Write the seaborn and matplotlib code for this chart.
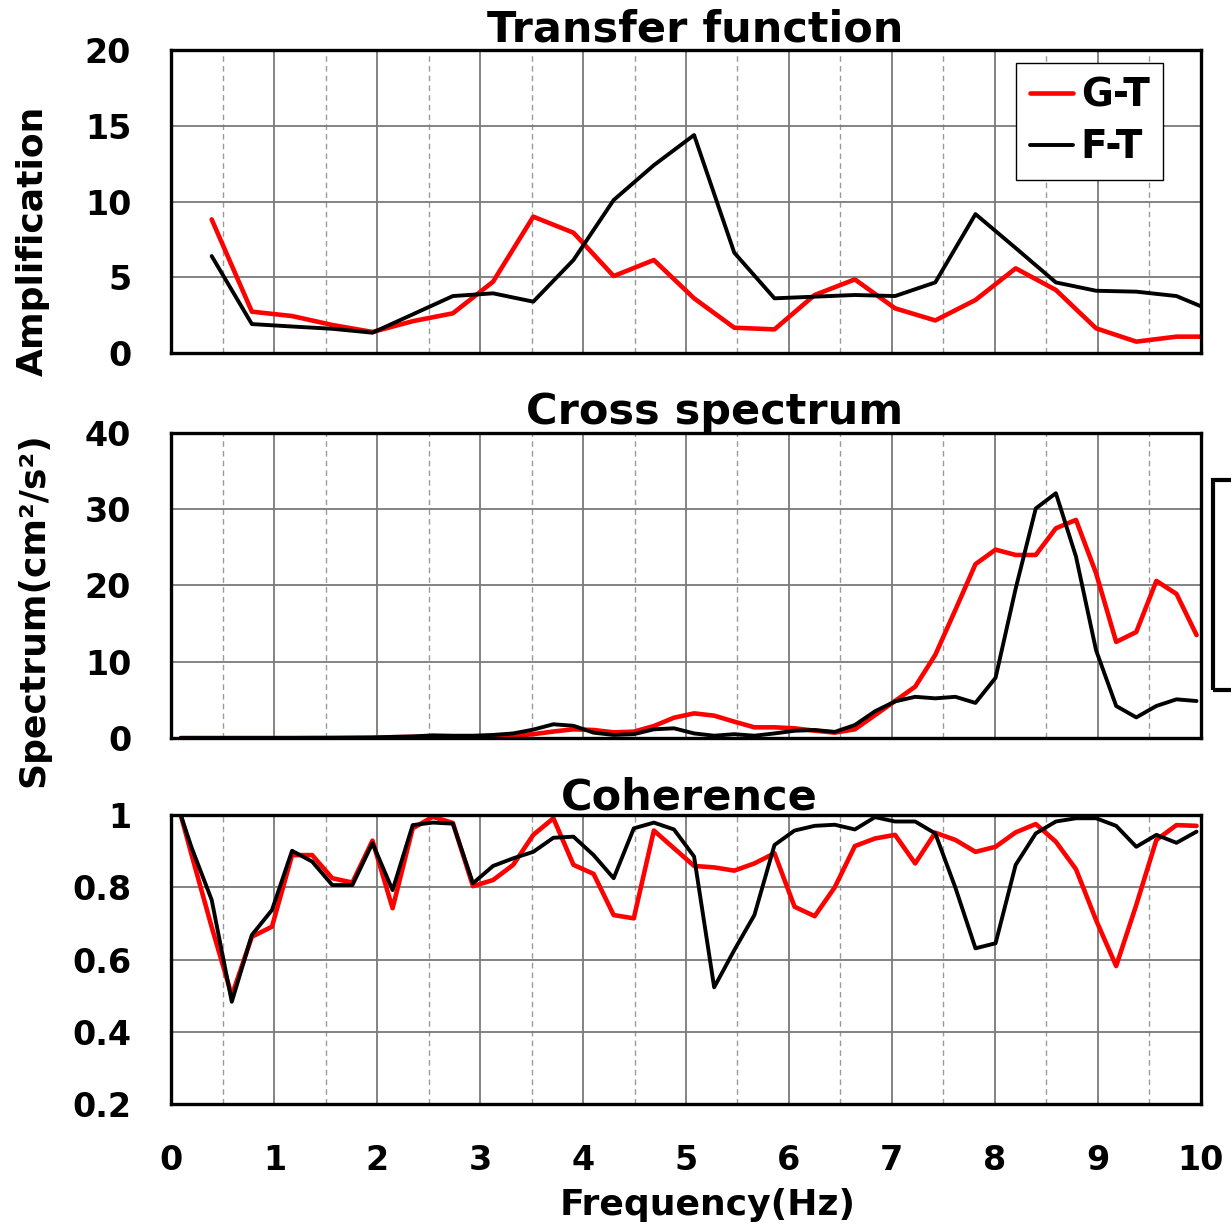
import numpy as np
import pandas as pd
import seaborn as sns
import matplotlib.pyplot as plt
from matplotlib.patches import Rectangle
from matplotlib.ticker import MultipleLocator

# frequency axes
tf_freq = np.arange(1, 27) * 0.390625
sp_freq = np.concatenate([[0.09], np.arange(1, 52) * 0.1953125])

# Transfer function (amplification)
tf_gt = [8.82, 2.73, 2.44, 1.85, 1.39, 2.1, 2.62, 4.71, 9.0, 7.94, 5.08, 6.14, 3.61,
         1.67, 1.56, 3.83, 4.86, 2.95, 2.15, 3.5, 5.59, 4.16, 1.63, 0.75, 1.08, 1.08]
tf_ft = [6.4, 1.91, 1.75, 1.6, 1.34, 2.55, 3.76, 3.94, 3.39, 6.14, 10.1, 12.4, 14.39,
         6.62, 3.61, 3.72, 3.83, 3.76, 4.66, 9.17, 6.93, 4.66, 4.11, 4.05, 3.76, 2.65]

# Cross spectrum (cm2/s2)
cs_gt = [0.0, 0.0, 0.0, 0.0, 0.0, 0.0, 0.0, 0.02, 0.03, 0.05, 0.05, 0.1, 0.15, 0.2,
         0.2, 0.2, 0.25, 0.3, 0.5, 0.85, 1.14, 1.05, 0.74, 0.83, 1.57, 2.66, 3.23,
         2.93, 2.14, 1.4, 1.4, 1.27, 0.96, 0.7, 1.14, 3.0, 4.85, 6.73, 10.9, 16.8,
         22.8, 24.7, 24.0, 24.0, 27.5, 28.6, 21.6, 12.6, 13.9, 20.6, 18.9, 13.5]
cs_ft = [0.0, 0.0, 0.0, 0.0, 0.0, 0.0, 0.0, 0.0, 0.0, 0.02, 0.05, 0.15, 0.2, 0.35,
         0.3, 0.3, 0.4, 0.6, 1.1, 1.8, 1.6, 0.7, 0.4, 0.5, 1.14, 1.27, 0.6, 0.3, 0.5,
         0.3, 0.6, 0.95, 1.05, 0.8, 1.7, 3.5, 4.8, 5.4, 5.2, 5.4, 4.6, 7.9, 19.6,
         30.1, 32.1, 23.8, 11.5, 4.2, 2.7, 4.2, 5.07, 4.85]

# Coherence
co_gt = [1.0, 0.89, 0.69, 0.50, 0.663, 0.691, 0.889, 0.889, 0.825, 0.813, 0.929,
         0.742, 0.963, 0.995, 0.978, 0.803, 0.82, 0.862, 0.945, 0.991, 0.862, 0.837,
         0.723, 0.714, 0.957, 0.908, 0.859, 0.855, 0.846, 0.866, 0.894, 0.746, 0.72,
         0.8, 0.914, 0.935, 0.945, 0.866, 0.951, 0.931, 0.898, 0.912, 0.952, 0.975,
         0.926, 0.85, 0.709, 0.582, 0.751, 0.931, 0.972, 0.97]
co_ft = [1.0, 0.91, 0.765, 0.483, 0.668, 0.737, 0.901, 0.871, 0.806, 0.806, 0.922,
         0.792, 0.972, 0.979, 0.976, 0.811, 0.859, 0.88, 0.898, 0.937, 0.94, 0.889,
         0.825, 0.963, 0.979, 0.96, 0.885, 0.523, 0.626, 0.723, 0.917, 0.957, 0.97,
         0.973, 0.96, 0.994, 0.982, 0.982, 0.949, 0.799, 0.631, 0.645, 0.862, 0.949,
         0.982, 0.991, 0.991, 0.97, 0.912, 0.945, 0.923, 0.954]

sns.set_style("white")
plt.rcParams['font.family'] = ['DejaVu Sans']
plt.rcParams['font.weight'] = 'bold'
plt.rcParams['text.color'] = 'black'
plt.rcParams['axes.labelcolor'] = 'black'
plt.rcParams['xtick.color'] = 'black'
plt.rcParams['ytick.color'] = 'black'

fig = plt.figure(figsize=(12.31, 12.30), dpi=100)
ax1 = fig.add_axes([0.1393, 0.713, 0.836, 0.2463])
ax2 = fig.add_axes([0.1393, 0.400, 0.836, 0.248])
ax3 = fig.add_axes([0.1393, 0.1024, 0.836, 0.235])

panels = [
    (ax1, tf_freq, tf_gt, tf_ft, (0, 20), 5, 'Transfer function', 0.509),
    (ax2, sp_freq, cs_gt, cs_ft, (0, 40), 10, 'Cross spectrum', 0.528),
    (ax3, sp_freq, co_gt, co_ft, (0.2, 1.0), 0.2, 'Coherence', 0.503),
]

for ax, f, gt, ft, ylim, ystep, title, tx in panels:
    df = pd.DataFrame({'f': f, 'gt': gt, 'ft': ft})
    sns.lineplot(data=df, x='f', y='gt', color='red', lw=3.3, ax=ax, label='G-T', legend=False)
    sns.lineplot(data=df, x='f', y='ft', color='black', lw=2.8, ax=ax, label='F-T', legend=False)
    ax.set_xlim(0, 10)
    ax.set_ylim(*ylim)
    ax.xaxis.set_major_locator(MultipleLocator(1))
    ax.xaxis.set_minor_locator(MultipleLocator(0.5))
    ax.yaxis.set_major_locator(MultipleLocator(ystep))
    ax.grid(which='major', color='#7a7a7a', lw=1.3, ls='-')
    ax.grid(which='minor', axis='x', color='#9a9a9a', lw=1.0, ls=(0, (4, 3)))
    ax.set_axisbelow(True)
    for s in ax.spines.values():
        s.set_color('black')
        s.set_linewidth(2.4)
    ax.tick_params(axis='x', which='major', direction='in', length=8, width=2,
                   pad=29, labelsize=24, color='black')
    ax.tick_params(axis='x', which='minor', length=0)
    ax.tick_params(axis='y', length=0, pad=29, labelsize=24)
    ax.set_title(title, fontsize=31, fontweight='bold', pad=4, x=tx)
    ax.set_xlabel('')
    ax.set_ylabel('')
    if ax is not ax3:
        ax.set_xticklabels([])

ax3.set_yticks([0.2, 0.4, 0.6, 0.8, 1.0])
ax3.set_yticklabels(['0.2', '0.4', '0.6', '0.8', '1'])
ax3.set_xticks(range(11))
ax3.set_xticklabels([str(i) for i in range(11)])

ax1.set_ylabel('Amplification', fontsize=26, fontweight='bold')
ax1.yaxis.set_label_coords(-0.118, 0.37)
ax2.set_ylabel('Spectrum(cm²/s²)', fontsize=26, fontweight='bold')
ax2.yaxis.set_label_coords(-0.118, 0.42)
ax3.set_xlabel('Frequency(Hz)', fontsize=26, fontweight='bold')
ax3.xaxis.set_label_coords(0.521, -0.29)

leg = ax1.legend(loc='upper right', bbox_to_anchor=(0.9636, 0.957), fontsize=28,
                 frameon=True, fancybox=False, framealpha=1, edgecolor='black',
                 handlelength=1.1, handletextpad=0.2, labelspacing=0.35,
                 borderpad=0.35, borderaxespad=0)
leg.get_frame().set_linewidth(1.0)

# clipped box at the right edge of the figure
fig.patches.append(Rectangle((0.9854, 0.439), 0.06, 0.171, transform=fig.transFigure,
                             fill=False, ec='black', lw=3, clip_on=False))

fig.savefig('out.png', dpi=100)
